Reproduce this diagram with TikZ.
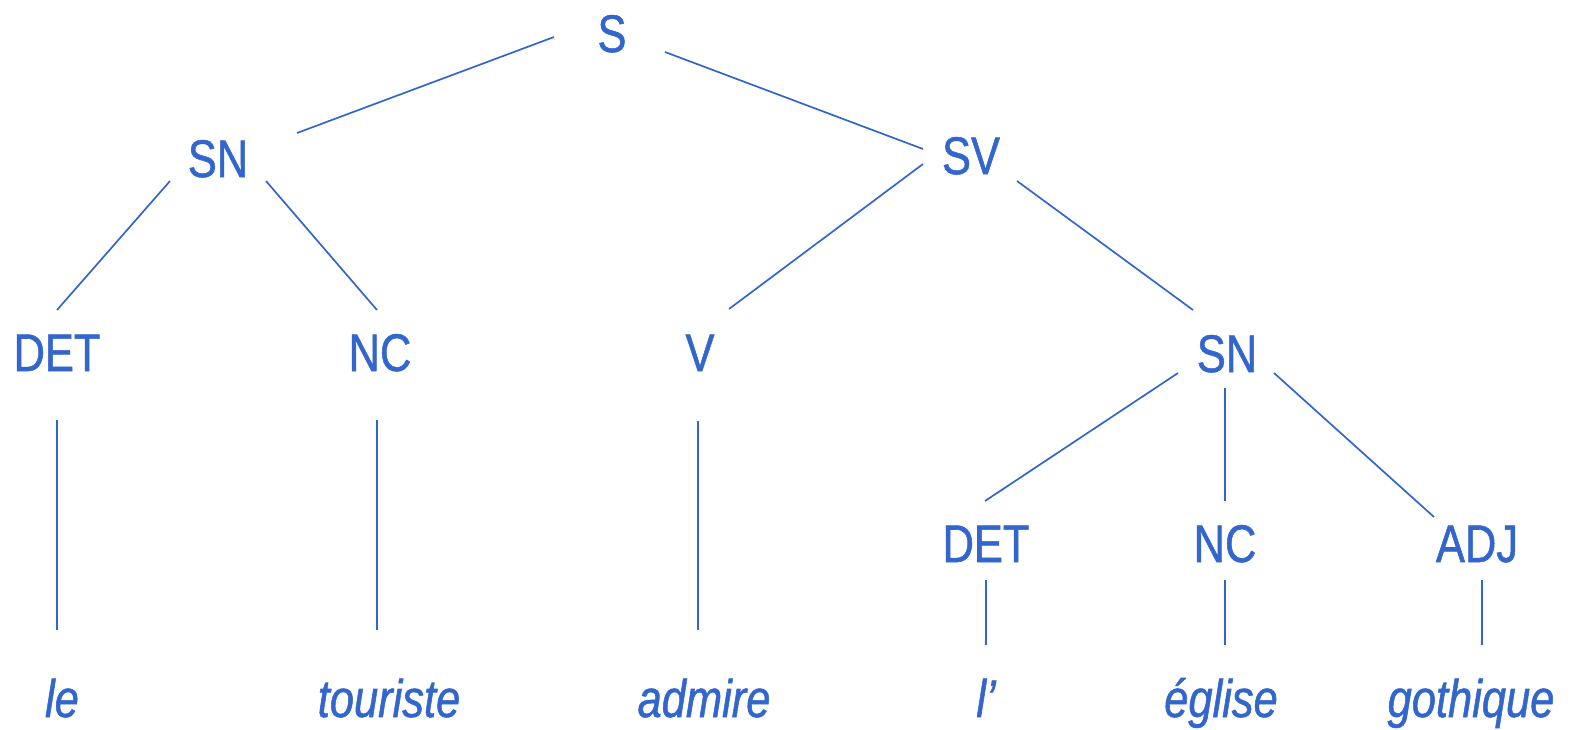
\documentclass[tikz,border=0pt]{standalone}
\usepackage{fontspec}
\setmainfont{Liberation Sans}[FakeStretch=0.82,FakeBold=1.0]
\usetikzlibrary{calc}
\definecolor{treeblue}{RGB}{51,102,204}
\begin{document}
\begin{tikzpicture}[x=1pt,y=-1pt,
  cat/.style={anchor=base,inner sep=0pt,text=treeblue,font=\fontsize{53}{60}\selectfont},
  word/.style={cat,font=\fontsize{53}{60}\selectfont\itshape},
  branch/.style={draw=treeblue,line width=1.7pt}]
\useasboundingbox (0,0) rectangle (1570,729);
% categories (placed by their baselines)
\node[cat] (s)    at (612,52)   {S};
\node[cat] (sn1)  at (218,177)  {SN};
\node[cat] (sv)   at (971,174)  {SV};
\node[cat] (det1) at (57,371)   {DET};
\node[cat] (nc1)  at (380,371)  {NC};
\node[cat] (v)    at (700,371)  {V};
\node[cat] (sn2)  at (1227,372) {SN};
\node[cat] (det2) at (986,562)  {DET};
\node[cat] (nc2)  at (1225,562) {NC};
\node[cat] (adj)  at (1477,562) {ADJ};
% words
\node[word] (w1) at (62,717)   {le};
\node[word] (w2) at (389,717)  {touriste};
\node[word] (w3) at (704,717)  {admire};
\node[word] (w4) at (986,717)  {l’};
\node[word] (w5) at (1221,717) {église};
\node[word] (w6) at (1471,717) {gothique};
% branches
\newcommand{\branchline}[4]{\draw[branch] ($(#1.base)+(#2)$) -- ($(#3.base)+(#4)$);}
\branchline{s}{-58,-15}{sn1}{79,-44}
\branchline{s}{53,0}{sv}{-48,-25}
\branchline{sn1}{-48,4}{det1}{0,-61}
\branchline{sn1}{48,4}{nc1}{-3,-61}
\branchline{sv}{-48,-10}{v}{29,-62}
\branchline{sv}{46,7}{sn2}{-34,-62}
\branchline{sn2}{-49,1}{det2}{-1,-61}
\branchline{sn2}{-2,16}{nc2}{0,-61}
\branchline{sn2}{47,1}{adj}{-43,-45}
\branchline{det1}{0,49}{w1}{-5,-87}
\branchline{nc1}{-3,49}{w2}{-12,-87}
\branchline{v}{-2,50}{w3}{-6,-87}
\branchline{det2}{0,18}{w4}{0,-72}
\branchline{nc2}{0,18}{w5}{4,-72}
\branchline{adj}{5,18}{w6}{11,-72}
\end{tikzpicture}
\end{document}
